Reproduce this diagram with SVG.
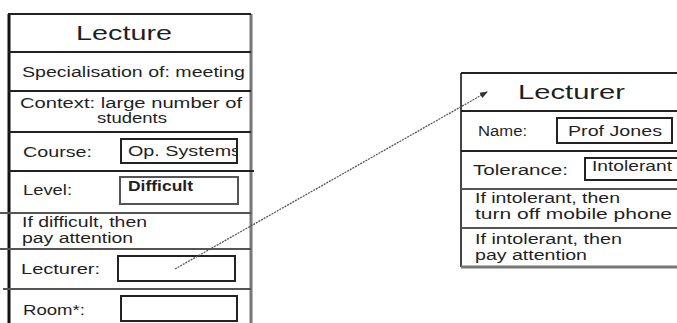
<svg xmlns="http://www.w3.org/2000/svg" width="677" height="323" viewBox="0 0 677 323">
<style>
text{font-family:"Liberation Sans",Arial,sans-serif;fill:#1f1f1f}
.t{font-size:20px}
.s{font-size:14px}
.b{font-weight:bold}
.d{stroke:#222;stroke-width:2}
.g{stroke:#555;stroke-width:2}
.v{fill:#fff;stroke:#222;stroke-width:2}
.conn{stroke:#555;stroke-width:1.3;stroke-dasharray:2 1;fill:none}
</style>
<defs>
<marker id="ah" markerWidth="8" markerHeight="8" refX="7" refY="4" orient="auto" markerUnits="userSpaceOnUse">
<path d="M0,1 L8,4 L0,7 Z" fill="#333"/>
</marker>
<clipPath id="cl"><rect x="122" y="140" width="114" height="22"/></clipPath>
</defs>
<rect width="677" height="323" fill="#fff"/>
<g id="lecture">
<line x1="9" y1="14" x2="9" y2="323" stroke="#111" stroke-width="3"/>
<line x1="251" y1="14" x2="251" y2="323" stroke="#777" stroke-width="3"/>
<line class="d" x1="8" y1="14" x2="251" y2="14"/>
<line class="d" x1="8" y1="52" x2="251" y2="52"/>
<line class="d" x1="8" y1="91" x2="251" y2="91"/>
<line class="d" x1="8" y1="132" x2="251" y2="132"/>
<line class="d" x1="8" y1="171" x2="254" y2="171"/>
<line class="g" x1="0" y1="213" x2="251" y2="213"/>
<line class="g" x1="0" y1="249" x2="251" y2="249"/>
<line class="g" x1="3" y1="289" x2="251" y2="289"/>
<text class="t" x="76" y="40" textLength="96" lengthAdjust="spacingAndGlyphs">Lecture</text>
<text class="s" x="22" y="77" textLength="223" lengthAdjust="spacingAndGlyphs">Specialisation of: meeting</text>
<text class="s" x="20" y="108" textLength="222" lengthAdjust="spacingAndGlyphs">Context: large number of</text>
<text class="s" x="97" y="123" textLength="70" lengthAdjust="spacingAndGlyphs">students</text>
<text class="s" x="23" y="157" textLength="69" lengthAdjust="spacingAndGlyphs">Course:</text>
<rect class="v" x="121" y="139" width="116" height="24"/>
<text class="s" x="128" y="156" textLength="113" lengthAdjust="spacingAndGlyphs" clip-path="url(#cl)">Op. Systems</text>
<text class="s" x="23" y="195" textLength="49" lengthAdjust="spacingAndGlyphs">Level:</text>
<rect x="120" y="177" width="118" height="27" fill="#fff" stroke="#555" stroke-width="2"/>
<text class="s b" x="128" y="191" textLength="65" lengthAdjust="spacingAndGlyphs">Difficult</text>
<text class="s" x="22" y="227" textLength="125" lengthAdjust="spacingAndGlyphs">If difficult, then</text>
<text class="s" x="22" y="243" textLength="111" lengthAdjust="spacingAndGlyphs">pay attention</text>
<text class="s" x="21" y="274" textLength="79" lengthAdjust="spacingAndGlyphs">Lecturer:</text>
<rect class="v" x="118" y="256" width="117" height="25"/>
<text class="s" x="23" y="315" textLength="62" lengthAdjust="spacingAndGlyphs">Room*:</text>
<rect class="v" x="121" y="296" width="116" height="25"/>
</g>
<g id="lecturer">
<line x1="461" y1="73" x2="461" y2="267" stroke="#444" stroke-width="2"/>
<line class="d" x1="461" y1="73" x2="677" y2="73"/>
<line class="d" x1="461" y1="111" x2="677" y2="111"/>
<line class="d" x1="461" y1="151" x2="677" y2="151"/>
<line class="g" x1="461" y1="189" x2="677" y2="189"/>
<line class="g" x1="461" y1="228" x2="677" y2="228"/>
<line x1="461" y1="267" x2="677" y2="267" stroke="#777" stroke-width="3"/>
<text class="t" x="518" y="99" textLength="107" lengthAdjust="spacingAndGlyphs">Lecturer</text>
<text class="s" x="478" y="136" textLength="49" lengthAdjust="spacingAndGlyphs">Name:</text>
<rect class="v" x="557" y="118" width="115" height="25"/>
<text class="s" x="568" y="136" textLength="94" lengthAdjust="spacingAndGlyphs">Prof Jones</text>
<text class="s" x="473" y="175" textLength="95" lengthAdjust="spacingAndGlyphs">Tolerance:</text>
<rect class="v" x="585" y="158" width="95" height="22"/>
<text class="s" x="592" y="171" textLength="80" lengthAdjust="spacingAndGlyphs">Intolerant</text>
<text class="s" x="475" y="203" textLength="145" lengthAdjust="spacingAndGlyphs">If intolerant, then</text>
<text class="s" x="475" y="219" textLength="197" lengthAdjust="spacingAndGlyphs">turn off mobile phone</text>
<text class="s" x="475" y="244" textLength="147" lengthAdjust="spacingAndGlyphs">If intolerant, then</text>
<text class="s" x="475" y="260" textLength="112" lengthAdjust="spacingAndGlyphs">pay attention</text>
</g>
<g id="connectors">
<line class="conn" x1="175" y1="269" x2="487" y2="92" marker-end="url(#ah)"/>
</g>
</svg>
